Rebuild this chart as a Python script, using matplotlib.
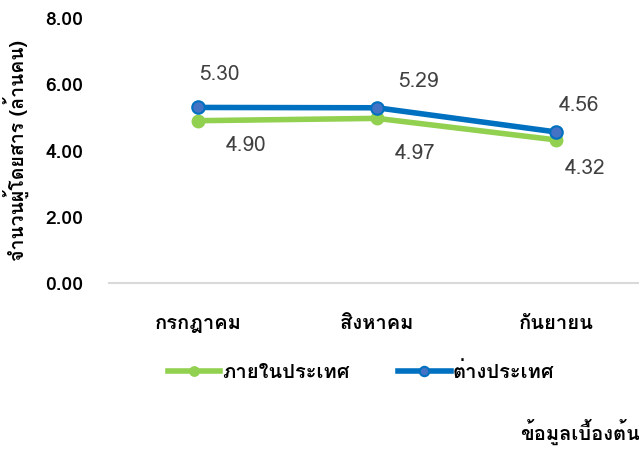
import matplotlib
matplotlib.use("Agg")
import matplotlib.pyplot as plt
from matplotlib import font_manager
from matplotlib.ft2font import FT2Font

# ── Data ──────────────────────────────────────────────────────────────────────
months = ["กรกฎาคม", "สิงหาคม", "กันยายน"]
domestic = [4.90, 4.97, 4.32]
international = [5.30, 5.29, 4.56]
y_ticks = [0.0, 2.0, 4.0, 6.0, 8.0]

# ── Find a font with Thai glyphs ──────────────────────────────────────────────
thai_font = None
for f in font_manager.fontManager.ttflist:
    try:
        if 0x0E01 in FT2Font(f.fname).get_charmap():
            thai_font = f.name
            break
    except Exception:
        continue
families = [thai_font, "DejaVu Sans"] if thai_font else ["DejaVu Sans"]
plt.rcParams["font.family"] = families

GREEN = "#92D050"
BLUE = "#0070C0"
BLUE_FILL = "#4472C4"
GREY = "#404040"

fig = plt.figure(figsize=(6.39, 4.49), dpi=100)
ax = fig.add_axes([0.1698, 0.3697, 0.8404, 0.5902])
x = range(len(months))

ax.plot(x, domestic, color=GREEN, lw=4, marker="o", ms=9,
        mfc=GREEN, mec=GREEN, label="ภายในประเทศ")
ax.plot(x, international, color=BLUE, lw=4, marker="o", ms=9,
        mfc=BLUE_FILL, mec=BLUE, mew=1.5, label="ต่างประเทศ")

# data labels
dom_off = [(0.27, -0.75), (0.21, -1.05), (0.16, -0.85)]
int_off = [(0.12, 1.0), (0.23, 0.8), (0.13, 0.8)]
for i, v in enumerate(domestic):
    ax.text(i + dom_off[i][0], v + dom_off[i][1], f"{v:.2f}", color=GREY,
            fontsize=15, ha="center", va="center")
for i, v in enumerate(international):
    ax.text(i + int_off[i][0], v + int_off[i][1], f"{v:.2f}", color=GREY,
            fontsize=15, ha="center", va="center")

ax.set_xlim(-0.5, 2.5)
ax.set_ylim(0, 8)
ax.set_yticks(y_ticks)
ax.set_yticklabels([f"{t:.2f}" for t in y_ticks], fontsize=14, fontweight="bold")
ax.set_xticks(list(x))
ax.set_xticklabels(months, fontsize=14.5, fontweight="bold")
ax.tick_params(length=0, pad=18)
ax.tick_params(axis="x", pad=22)
for s in ["top", "right", "left"]:
    ax.spines[s].set_visible(False)
ax.spines["bottom"].set_color("#D9D9D9")
ax.spines["bottom"].set_linewidth(1.5)

ax.set_ylabel("จำนวนผู้โดยสาร (ล้านคน)", fontsize=14, fontweight="bold", labelpad=12)

leg = fig.legend(loc="center", bbox_to_anchor=(0.565, 0.172), ncol=2, frameon=False,
                 fontsize=14.5, handlelength=2.6, columnspacing=2.4, handletextpad=0.1,
                 markerscale=0.75)
for t in leg.get_texts():
    t.set_fontweight("bold")

fig.text(0.814, 0.02, "ข้อมูลเบื้องต้น", fontsize=14.5, fontweight="bold", ha="left")

fig.savefig("out.png", dpi=100)
